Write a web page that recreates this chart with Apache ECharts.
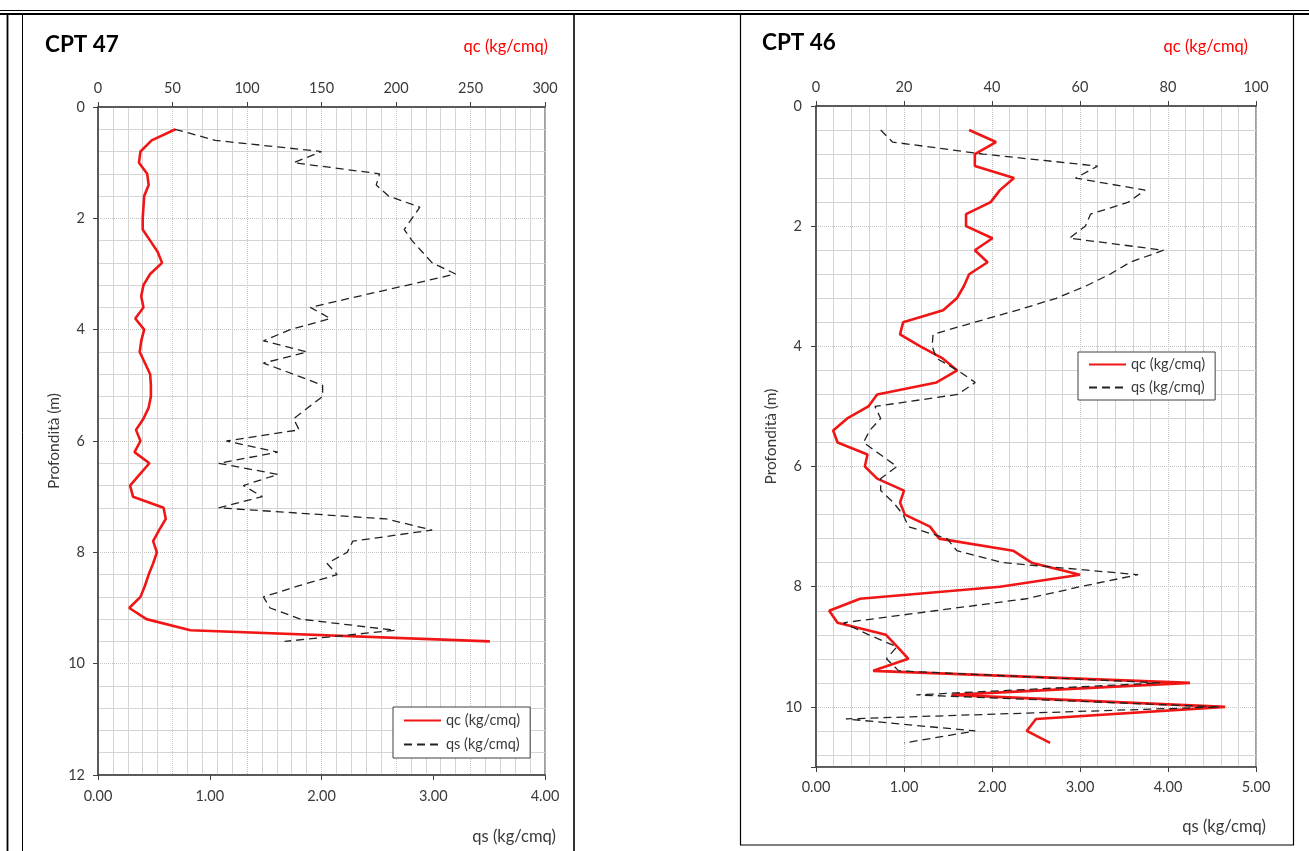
<!DOCTYPE html>
<html>
<head>
<meta charset="utf-8">
<script src="https://cdn.jsdelivr.net/npm/echarts@6/dist/echarts.min.js"></script>
<style>
  html, body { margin: 0; padding: 0; background: #ffffff; }
  #chart { width: 1309px; height: 851px; }
</style>
</head>
<body>
<div id="chart"></div>
<script>
// CPT 47 — cone resistance (qc) and sleeve friction (qs) vs depth
const depth47 = [0.4, 0.6, 0.8, 1.0, 1.2, 1.4, 1.6, 1.8, 2.0, 2.2, 2.4, 2.6, 2.8, 3.0, 3.2, 3.4,
  3.6, 3.8, 4.0, 4.2, 4.4, 4.6, 4.8, 5.0, 5.2, 5.4, 5.6, 5.8, 6.0, 6.2, 6.4, 6.6, 6.8, 7.0,
  7.2, 7.4, 7.6, 7.8, 8.0, 8.2, 8.4, 8.6, 8.8, 9.0, 9.2, 9.4, 9.6];
const qc47 = [52, 36, 28.5, 27.5, 33, 34, 31, 30.5, 30, 30, 35, 40, 43, 35, 30.5, 29,
  30.5, 25, 31, 29, 28, 31.5, 35, 35.5, 35.5, 34, 30.5, 25.5, 28.5, 24.5, 34.5, 28, 21.5, 23.5,
  44, 45.5, 41, 37, 39.5, 37, 34, 31.5, 28.5, 21, 32.5, 62, 263];
const qs47 = [0.69, 1.05, 2.0, 1.75, 2.52, 2.49, 2.6, 2.88, 2.81, 2.74, 2.81, 2.9, 2.99, 3.2, 2.77, 2.33,
  1.9, 2.08, 1.72, 1.48, 1.87, 1.48, 1.75, 2.01, 2.01, 1.88, 1.75, 1.8, 1.15, 1.61, 1.08, 1.61, 1.3, 1.47,
  1.08, 2.58, 2.99, 2.28, 2.23, 2.05, 2.14, 1.8, 1.48, 1.54, 1.81, 2.66, 1.67];

// CPT 46
const depth46 = [0.4, 0.6, 0.8, 1.0, 1.2, 1.4, 1.6, 1.8, 2.0, 2.2, 2.4, 2.6, 2.8, 3.0, 3.2, 3.4,
  3.6, 3.8, 4.0, 4.2, 4.4, 4.6, 4.8, 5.0, 5.2, 5.4, 5.6, 5.8, 6.0, 6.2, 6.4, 6.6, 6.8, 7.0,
  7.2, 7.4, 7.6, 7.8, 8.0, 8.2, 8.4, 8.6, 8.8, 9.0, 9.2, 9.4, 9.6, 9.8, 10.0, 10.2, 10.4, 10.6];
const qc46 = [34.8, 40.9, 36.1, 36.1, 45, 41.8, 39.7, 34.1, 34.1, 40.1, 36.1, 39, 34.8, 33.6, 32, 28.9,
  19.8, 19.1, 23.7, 28.8, 32.1, 27.4, 13.9, 11.9, 7.1, 3.9, 4.9, 11.7, 11.1, 13.9, 20, 19.1, 20.2, 25.9,
  28, 44.8, 49, 60, 41.8, 10, 3.0, 4.9, 15.9, 18.5, 21, 13, 85, 30.8, 93, 50, 47.9, 53.2];
const qs46 = [0.735, 0.87, 1.9, 3.2, 2.95, 3.74, 3.55, 3.12, 3.06, 2.88, 3.95, 3.57, 3.34, 3.06, 2.73, 2.28,
  1.8, 1.33, 1.32, 1.37, 1.61, 1.81, 1.61, 0.67, 0.735, 0.61, 0.54, 0.73, 0.92, 0.735, 0.735, 0.88, 0.99, 1.05,
  1.49, 1.6, 2.13, 3.66, 3.0, 2.39, 1.35, 0.31, 0.6, 0.92, 0.8, 0.94, 3.91, 1.14, 4.59, 0.34, 1.81, 1.0];

const seriesNames = ['qc (kg/cmq)', 'qs (kg/cmq)'];
const chartTitles = ['CPT 47', 'CPT 46'];
const depthLabel = 'Profondità (m)';

const FONT = 'Lato, "Open Sans", sans-serif';
const AXIS_COLOR = '#404040';
const TEXT_COLOR = '#3a3a3a';
const RED = '#f01616';
const BLACK = '#222222';
const TICK_FS = 14.5;
const MAJOR_GRID = { color: '#c4c4c4', type: 'dotted', width: 1 };
const MINOR_GRID = { color: '#d4d4d4', width: 1 };

function pairs(xs, ys) { return ys.map((d, i) => [xs[i], d]); }

function tickLabels(margin, formatter) {
  const l = { color: TEXT_COLOR, fontSize: TICK_FS, fontFamily: FONT, margin: margin };
  if (formatter) l.formatter = formatter;
  return l;
}

function valueAxis(extra) {
  return Object.assign({
    type: 'value',
    axisLine: { show: true, onZero: false, lineStyle: { color: AXIS_COLOR, width: 1.5 } },
    axisTick: { show: true, inside: false, length: 5, lineStyle: { color: AXIS_COLOR, width: 1 } },
    axisLabel: tickLabels(8),
    splitLine: { show: false }
  }, extra);
}

function legendBox(left, top, gap, pad) {
  return {
    left: left, top: top, orient: 'vertical', data: seriesNames, selectedMode: false,
    itemWidth: 37, itemHeight: 14, itemGap: gap, padding: pad,
    itemStyle: { opacity: 0 },
    borderColor: AXIS_COLOR, borderWidth: 1, backgroundColor: '#ffffff',
    textStyle: { color: TEXT_COLOR, fontSize: 14.5, fontFamily: FONT }
  };
}

const fixed2 = v => v.toFixed(2);

const chart = echarts.init(document.getElementById('chart'), null, { renderer: 'canvas' });

const option = {
  animation: false,
  backgroundColor: '#ffffff',
  textStyle: { fontFamily: FONT },
  grid: [
    { left: 98, top: 107, width: 447, height: 668, show: true, borderColor: AXIS_COLOR, borderWidth: 1, backgroundColor: 'transparent' },
    { left: 816, top: 106, width: 440, height: 661, show: true, borderColor: AXIS_COLOR, borderWidth: 1, backgroundColor: 'transparent' }
  ],
  xAxis: [
    valueAxis({
      gridIndex: 0, position: 'top', min: 0, max: 300, interval: 50,
      axisLabel: tickLabels(11),
      splitLine: { show: true, lineStyle: MAJOR_GRID },
      minorTick: { show: false, splitNumber: 5 },
      minorSplitLine: { show: true, lineStyle: MINOR_GRID }
    }),
    valueAxis({
      gridIndex: 0, position: 'bottom', min: 0, max: 4, interval: 1,
      axisLabel: tickLabels(14, fixed2)
    }),
    valueAxis({
      gridIndex: 1, position: 'top', min: 0, max: 100, interval: 20,
      axisLabel: tickLabels(11),
      splitLine: { show: true, lineStyle: MAJOR_GRID },
      minorTick: { show: false, splitNumber: 5 },
      minorSplitLine: { show: true, lineStyle: MINOR_GRID }
    }),
    valueAxis({
      gridIndex: 1, position: 'bottom', min: 0, max: 5, interval: 1,
      axisLabel: tickLabels(13, fixed2)
    })
  ],
  yAxis: [
    valueAxis({
      gridIndex: 0, inverse: true, min: 0, max: 12, interval: 2,
      name: depthLabel, nameLocation: 'middle', nameGap: 36, nameRotate: 90,
      nameTextStyle: { color: TEXT_COLOR, fontSize: 15.5, fontFamily: FONT },
      axisLabel: tickLabels(13),
      splitLine: { show: true, lineStyle: MAJOR_GRID },
      minorTick: { show: false, splitNumber: 5 },
      minorSplitLine: { show: true, lineStyle: MINOR_GRID }
    }),
    valueAxis({
      gridIndex: 1, inverse: true, min: 0, max: 11, interval: 2,
      name: depthLabel, nameLocation: 'middle', nameGap: 37, nameRotate: 90,
      nameTextStyle: { color: TEXT_COLOR, fontSize: 15.5, fontFamily: FONT },
      axisLabel: tickLabels(14, v => (v % 2 === 0 ? String(v) : '')),
      splitLine: { show: true, lineStyle: MAJOR_GRID }
    }),
    // light 0.4 m rules between the labelled depths of CPT 46
    {
      type: 'value', gridIndex: 1, inverse: true, min: 0, max: 11, interval: 0.4,
      axisLine: { show: false }, axisTick: { show: false }, axisLabel: { show: false },
      splitLine: { show: true, lineStyle: { color: ['rgba(0,0,0,0)', MINOR_GRID.color, MINOR_GRID.color, MINOR_GRID.color, MINOR_GRID.color], width: 1 } }
    }
  ],
  legend: [
    legendBox(393, 707, 9, [6, 10, 6, 10]),
    legendBox(1078, 352, 8, [5, 10, 5, 10])
  ],
  series: [
    { name: seriesNames[0], type: 'line', xAxisIndex: 0, yAxisIndex: 0, data: pairs(qc47, depth47),
      symbol: 'none', z: 2, lineStyle: { color: RED, width: 2.6 }, itemStyle: { color: RED } },
    { name: seriesNames[1], type: 'line', xAxisIndex: 1, yAxisIndex: 0, data: pairs(qs47, depth47),
      symbol: 'none', z: 3, lineStyle: { color: BLACK, width: 1.3, type: [8, 5] }, itemStyle: { color: BLACK } },
    { name: seriesNames[0], type: 'line', xAxisIndex: 2, yAxisIndex: 1, data: pairs(qc46, depth46),
      symbol: 'none', z: 2, lineStyle: { color: RED, width: 2.6 }, itemStyle: { color: RED } },
    { name: seriesNames[1], type: 'line', xAxisIndex: 3, yAxisIndex: 1, data: pairs(qs46, depth46),
      symbol: 'none', z: 3, lineStyle: { color: BLACK, width: 1.3, type: [8, 5] }, itemStyle: { color: BLACK } }
  ],
  graphic: [
    // page frame and panel borders
    { type: 'line', shape: { x1: 0, y1: 10.5, x2: 1309, y2: 10.5 }, style: { stroke: '#000', lineWidth: 1.2 } },
    { type: 'line', shape: { x1: 0, y1: 14, x2: 1309, y2: 14 }, style: { stroke: '#000', lineWidth: 2 } },
    { type: 'line', shape: { x1: 7.5, y1: 14, x2: 7.5, y2: 851 }, style: { stroke: '#000', lineWidth: 1.8 } },
    { type: 'line', shape: { x1: 22.5, y1: 14, x2: 22.5, y2: 851 }, style: { stroke: '#000', lineWidth: 1 } },
    { type: 'line', shape: { x1: 574, y1: 14, x2: 574, y2: 851 }, style: { stroke: '#000', lineWidth: 1.6 } },
    { type: 'rect', shape: { x: 740.5, y: 14, width: 553, height: 831 }, style: { fill: 'none', stroke: '#000', lineWidth: 1.2 } },
    // chart titles and axis captions
    { type: 'text', x: 45, y: 45, style: { text: chartTitles[0], font: 'bold 22.5px ' + FONT, fill: '#000', textVerticalAlign: 'middle' } },
    { type: 'text', x: 762, y: 43, style: { text: chartTitles[1], font: 'bold 22.5px ' + FONT, fill: '#000', textVerticalAlign: 'middle' } },
    { type: 'text', x: 548, y: 47, style: { text: 'qc (kg/cmq)', font: '16.5px ' + FONT, fill: '#ff0000', textAlign: 'right', textVerticalAlign: 'middle' } },
    { type: 'text', x: 1248, y: 47, style: { text: 'qc (kg/cmq)', font: '16.5px ' + FONT, fill: '#ff0000', textAlign: 'right', textVerticalAlign: 'middle' } },
    { type: 'text', x: 556, y: 837, style: { text: 'qs (kg/cmq)', font: '16.5px ' + FONT, fill: TEXT_COLOR, textAlign: 'right', textVerticalAlign: 'middle' } },
    { type: 'text', x: 1266, y: 827, style: { text: 'qs (kg/cmq)', font: '16.5px ' + FONT, fill: TEXT_COLOR, textAlign: 'right', textVerticalAlign: 'middle' } }
  ]
};

chart.setOption(option);
</script>
</body>
</html>
